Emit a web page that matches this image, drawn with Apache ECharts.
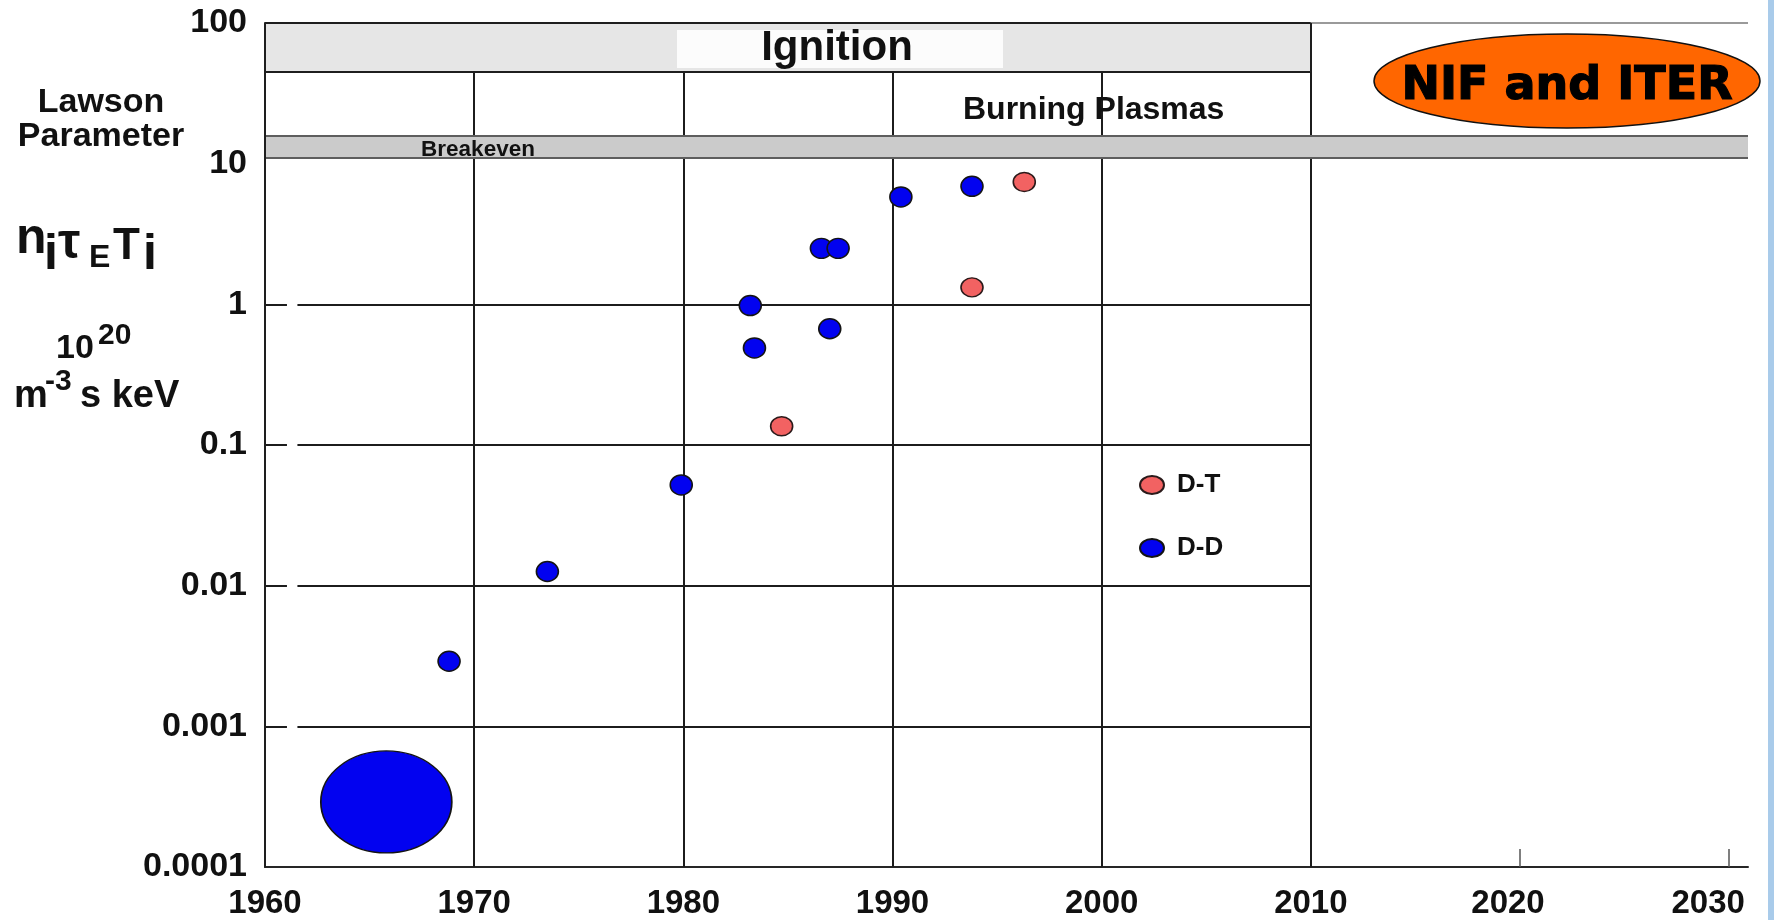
<!DOCTYPE html>
<html>
<head>
<meta charset="utf-8">
<script src="https://cdn.jsdelivr.net/npm/echarts@6/dist/echarts.min.js"></script>
<style>
html,body{margin:0;padding:0;background:#ffffff;}
#chart{width:1774px;height:920px;}
</style>
</head>
<body>
<div id="chart"></div>
<script>
// ---------------- data ----------------
const ddYears  = [1965.8, 1968.8, 1973.5, 1979.9, 1983.2, 1983.4, 1986.6, 1987.0, 1987.4, 1990.4, 1993.8];
const ddValues = [0.00029, 0.0029, 0.0126, 0.052, 0.98, 0.49, 2.5, 0.67, 2.5, 5.8, 6.9];
const dtYears  = [1984.7, 1993.8, 1996.3];
const dtValues = [0.136, 1.32, 7.4];

const xTickYears  = [1960, 1970, 1980, 1990, 2000, 2010, 2020, 2030];
const yTickValues = [0.0001, 0.001, 0.01, 0.1, 1, 10, 100];
const yTickLabels = ['0.0001', '0.001', '0.01', '0.1', '1', '10', '100'];

const gridYears  = [1970, 1980, 1990, 2000];
const gridValues = [0.001, 0.01, 0.1, 1];
const boxEndYear = 2010;
const outerTickYears = [2020, 2030];
const ignitionBand  = [45, 100];
const breakevenBand = [11, 15.8];
const seriesNames = ['D-T', 'D-D'];

// ---------------- helpers ----------------
const FONT = '"Liberation Sans", Arial, Helvetica, sans-serif';
const HEAVY = '"DejaVu Sans", "Liberation Sans", Arial, sans-serif';
const ELL = 'path://M50,0 C77.6,0 100,22.4 100,50 C100,77.6 77.6,100 50,100 C22.4,100 0,77.6 0,50 C0,22.4 22.4,0 50,0 Z';
const X_MIN = xTickYears[0];
const X_MAX = 2030.9;
const Y_MIN = yTickValues[0];
const Y_MAX = yTickValues[yTickValues.length - 1];

function seg(x1, y1, x2, y2, style) {
  const a = { coord: [x1, y1] };
  if (style) a.lineStyle = style;
  return [a, { coord: [x2, y2] }];
}
function txt(text, x, baseline, size, align, family) {
  return {
    type: 'text', x: x, y: baseline - 0.35 * size, z: 100,
    style: {
      text: text, fontSize: size, fontWeight: 'bold', fontFamily: family || FONT,
      fill: '#111', align: align || 'left', verticalAlign: 'middle'
    }
  };
}

// grid lines built from the tick arrays
const gridLineData = [];
gridValues.forEach(v => {
  gridLineData.push(seg(X_MIN, v, X_MIN + 1.05, v));
  gridLineData.push(seg(X_MIN + 1.55, v, boxEndYear, v));
});
gridYears.forEach(y => gridLineData.push(seg(y, Y_MIN, y, ignitionBand[0])));
gridLineData.push(seg(boxEndYear, Y_MIN, boxEndYear, Y_MAX));
outerTickYears.forEach(y => gridLineData.push(seg(y, Y_MIN, y, Y_MIN * 1.345, { color: '#555', width: 1.5 })));

const edgeData = [
  seg(X_MIN, ignitionBand[0], boxEndYear, ignitionBand[0], { color: '#1e1e1e', width: 2 }),
  seg(X_MIN, ignitionBand[1], boxEndYear, ignitionBand[1], { color: '#1e1e1e', width: 2 }),
  seg(boxEndYear, ignitionBand[1], X_MAX, ignitionBand[1], { color: '#9a9a9a', width: 2 }),
  seg(boxEndYear, ignitionBand[0], boxEndYear, ignitionBand[1], { color: '#1e1e1e', width: 2 }),
  seg(X_MIN, breakevenBand[1], X_MAX, breakevenBand[1], { color: '#5e5e5e', width: 2 }),
  seg(X_MIN, breakevenBand[0], X_MAX, breakevenBand[0], { color: '#5e5e5e', width: 2 })
];

// the reference prints the two outer year labels a little left of their ticks
const labelShift = { 2020: 24, 2030: 42 };

const chart = echarts.init(document.getElementById('chart'), null, { renderer: 'canvas' });

const option = {
  animation: false,
  backgroundColor: '#ffffff',
  grid: { left: 265, right: 26, top: 23, bottom: 53, containLabel: false, outerBoundsMode: 'none' },
  xAxis: {
    type: 'value', min: X_MIN, max: X_MAX, interval: 10,
    splitLine: { show: false },
    axisTick: { show: false },
    axisLine: { show: true, onZero: false, lineStyle: { color: '#262626', width: 2 } },
    axisLabel: {
      margin: 20, fontFamily: FONT, fontWeight: 'bold', fontSize: 33, color: '#111',
      formatter: v => {
        const r = Math.round(v);
        if (!(Math.abs(v - r) < 1e-6 && xTickYears.indexOf(r) >= 0)) return '';
        return labelShift[r] ? '{s' + r + '|' + r + '}' : String(r);
      },
      rich: {
        s2020: { fontFamily: FONT, fontWeight: 'bold', fontSize: 33, color: '#111', padding: [0, labelShift[2020], 0, 0] },
        s2030: { fontFamily: FONT, fontWeight: 'bold', fontSize: 33, color: '#111', padding: [0, labelShift[2030], 0, 0] }
      }
    }
  },
  yAxis: {
    type: 'log', logBase: 10, min: Y_MIN, max: Y_MAX, splitNumber: 6, z: 5,
    splitLine: { show: false },
    axisTick: { show: false },
    axisLine: { show: true, lineStyle: { color: '#1e1e1e', width: 2 } },
    axisLabel: {
      margin: 18, fontFamily: FONT, fontWeight: 'bold', fontSize: 34, color: '#111',
      formatter: v => {
        const k = Math.round(Math.log10(v));
        const i = yTickValues.findIndex(t => Math.round(Math.log10(t)) === k);
        return i >= 0 ? yTickLabels[i] : '';
      }
    }
  },
  legend: {
    orient: 'vertical', left: 1134, top: 467, itemWidth: 24, itemHeight: 18, itemGap: 37,
    icon: ELL, symbolKeepAspect: false, data: seriesNames, selectedMode: false,
    textStyle: { fontFamily: FONT, fontWeight: 'bold', fontSize: 26, color: '#111', padding: [0, 0, 0, 8] }
  },
  series: [
    {
      name: seriesNames[0], type: 'scatter', z: 2,
      symbol: ELL, symbolSize: [22, 19],
      itemStyle: { color: '#f26262', borderColor: '#2a1a1a', borderWidth: 1.5, opacity: 1 },
      data: dtYears.map((y, i) => [y, dtValues[i]]),
      markLine: {
        silent: true, z: 4, symbol: ['none', 'none'], label: { show: false },
        lineStyle: { type: 'solid', color: '#1e1e1e', width: 2 },
        emphasis: { disabled: true },
        data: edgeData
      }
    },
    {
      name: seriesNames[1], type: 'scatter', z: 2,
      symbol: ELL,
      symbolSize: (val, p) => p.dataIndex === 0 ? [131, 102] : [22, 20],
      itemStyle: { color: '#0202f0', borderColor: '#141414', borderWidth: 1.5, opacity: 1 },
      data: ddYears.map((y, i) => [y, ddValues[i]]),
      markLine: {
        silent: true, z: 1, symbol: ['none', 'none'], label: { show: false },
        lineStyle: { type: 'solid', color: '#1c1c1c', width: 2 },
        emphasis: { disabled: true },
        data: gridLineData
      },
      markArea: {
        silent: true, z: 3, label: { show: false },
        emphasis: { disabled: true },
        data: [
          [{ coord: [X_MIN, ignitionBand[0]], itemStyle: { color: '#e6e6e6' } }, { coord: [boxEndYear, ignitionBand[1]] }],
          [{ coord: [X_MIN, breakevenBand[0]], itemStyle: { color: '#cbcbcb' } }, { coord: [X_MAX, breakevenBand[1]] }]
        ]
      }
    }
  ],
  graphic: [
    // right border strip
    { type: 'rect', z: 100, shape: { x: 1768, y: 0, width: 6, height: 920 }, style: { fill: '#a9cbea' } },
    // Ignition label with its white patch
    { type: 'rect', z: 99, shape: { x: 677, y: 30, width: 326, height: 38 }, style: { fill: '#fcfcfc' } },
    txt('Ignition', 837, 63, 42, 'center'),
    txt('Burning Plasmas', 963, 121, 32, 'left'),
    txt('Breakeven', 478, 158, 22.5, 'center'),
    // NIF and ITER badge
    { type: 'ellipse', z: 100, shape: { cx: 1567, cy: 81, rx: 193, ry: 47 },
      style: { fill: '#ff6600', stroke: '#111', lineWidth: 1.5 } },
    { type: 'text', z: 101, x: 1567, y: 87,
      style: { text: 'NIF and ITER', fontSize: 46, fontWeight: 'bold', fontFamily: HEAVY, fill: '#000',
               stroke: '#000', lineWidth: 1.2, align: 'center', verticalAlign: 'middle' } },
    // y-axis title
    txt('Lawson', 101, 115, 34, 'center'),
    txt('Parameter', 101, 149, 34, 'center'),
    txt('n', 16, 257, 50, 'left'),
    txt('i', 44, 273, 50, 'left'),
    txt('τ', 58, 262, 50, 'left'),
    txt('E', 89, 269, 32, 'left'),
    txt('T', 113, 262, 44, 'left'),
    txt('i', 143, 273, 50, 'left'),
    txt('10', 56, 361, 34, 'left'),
    txt('20', 98, 346, 30, 'left'),
    txt('m', 14, 410, 38, 'left'),
    txt('-3', 45, 392, 30, 'left'),
    txt('s keV', 80, 410, 38, 'left')
  ]
};
chart.setOption(option);
</script>
</body>
</html>
